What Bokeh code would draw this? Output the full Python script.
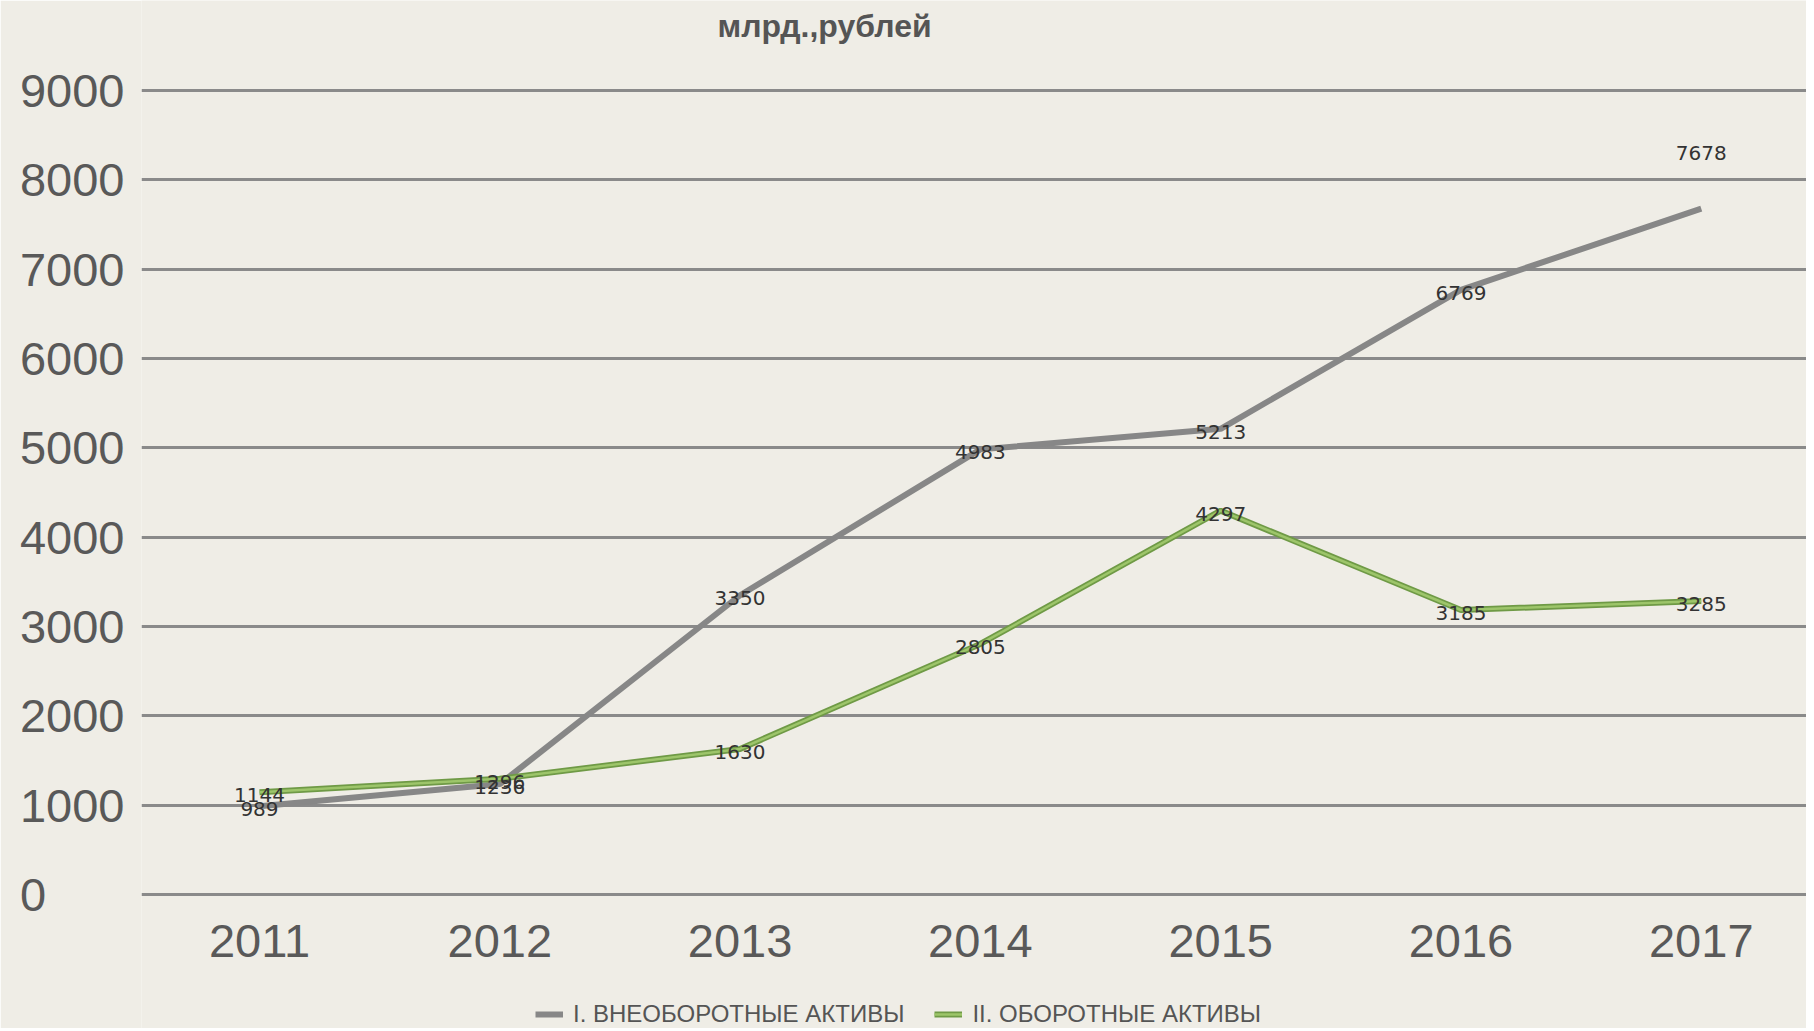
from bokeh.plotting import figure
from bokeh.models import Legend, LegendItem, FixedTicker, ColumnDataSource, Range1d, Label
from bokeh.embed import file_html
from bokeh.resources import INLINE
from bokeh.core.properties import value

years = [2011, 2012, 2013, 2014, 2015, 2016, 2017]
x_labels = ["2011", "2012", "2013", "2014", "2015", "2016", "2017"]
noncurrent = [989, 1236, 3350, 4983, 5213, 6769, 7678]
current = [1144, 1296, 1630, 2805, 4297, 3185, 3285]
y_ticks = [0, 1000, 2000, 3000, 4000, 5000, 6000, 7000, 8000, 9000]
title_text = "млрд.,рублей"
name_noncurrent = "I. ВНЕОБОРОТНЫЕ АКТИВЫ"
name_current = "II. ОБОРОТНЫЕ АКТИВЫ"

BG = "#EFEDE6"
W, H = 1806, 1028

p = figure(width=W, height=H, output_backend="svg", toolbar_location=None,
           x_range=Range1d(2010.509, 2017.438), y_range=Range1d(-1500, 10008),
           background_fill_color=BG, border_fill_color=BG, outline_line_color=None,
           min_border_left=141, min_border_right=0, min_border_top=0, min_border_bottom=0)
p.title = None

p.add_layout(Label(x=2012.906, y=9728, text=title_text, text_align="left",
                   text_baseline="middle", text_font="Liberation Sans",
                   text_font_size="32px", text_font_style="bold", text_color="#555555"))

p.xaxis.visible = False
p.xgrid.grid_line_color = None

p.yaxis.ticker = FixedTicker(ticks=y_ticks)
p.yaxis.axis_line_color = None
p.yaxis.major_tick_line_color = None
p.yaxis.minor_tick_line_color = None
p.yaxis.major_label_text_font = "Liberation Sans"
p.yaxis.major_label_text_font_size = "47px"
p.yaxis.major_label_text_color = "#595959"
p.yaxis.major_label_standoff = 11
p.yaxis.major_label_overrides = {0: "0\u2007\u2007\u2007"}
p.ygrid.ticker = FixedTicker(ticks=y_ticks)
p.ygrid.grid_line_color = "#8a8a8a"
p.ygrid.grid_line_width = 3

# category labels under the zero line
xl_src = ColumnDataSource(dict(x=years, y=[0] * len(years), t=x_labels))
p.text("x", "y", text="t", source=xl_src, y_offset=46, text_align="center",
       text_baseline="middle", text_font=value("Liberation Sans"),
       text_font_size="47px", text_color="#595959")

src1 = ColumnDataSource(dict(x=years, y=noncurrent, t=[str(v) for v in noncurrent],
                             off=[3, 3, 3, 3, 3, 3, -56]))
src2 = ColumnDataSource(dict(x=years, y=current, t=[str(v) for v in current],
                             off=[3, 3, 3, 3, 3, 3, 3]))

r1 = p.line("x", "y", source=src1, line_color="#878787", line_width=6)
r2a = p.line("x", "y", source=src2, line_color="#6f9a46", line_width=6)
r2b = p.line("x", "y", source=src2, line_color="#9dc56a", line_width=2.5)

for s in (src1, src2):
    p.text("x", "y", text="t", source=s, y_offset="off", text_align="center",
           text_baseline="middle", text_font=value("DejaVu Sans"),
           text_font_size="20px", text_color="#333333")

legend = Legend(items=[LegendItem(label=name_noncurrent, renderers=[r1]),
                       LegendItem(label=name_current, renderers=[r2a, r2b])],
                orientation="horizontal", location=(394, 0),
                background_fill_alpha=0, border_line_color=None,
                label_text_font="Liberation Sans", label_text_font_size="24px",
                label_text_color="#555555", glyph_width=28, glyph_height=12,
                spacing=30, label_standoff=10, padding=0, margin=0)
p.add_layout(legend, "center")

open("out.html", "w").write(file_html(p, INLINE))
